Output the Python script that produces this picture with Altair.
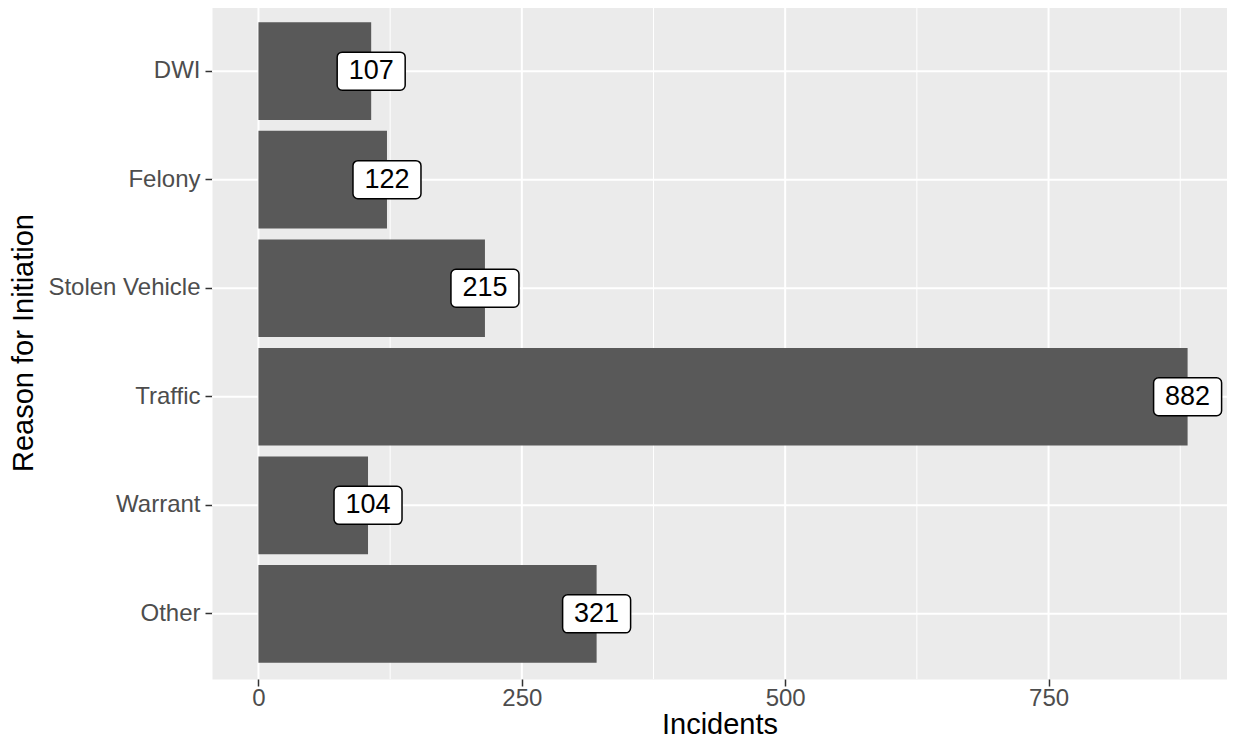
import altair as alt
import pandas as pd

reasons = ["DWI", "Felony", "Stolen Vehicle", "Traffic", "Warrant", "Other"]
incidents = [107, 122, 215, 882, 104, 321]
major_x = [0, 250, 500, 750]
minor_x = [125, 375, 625, 875]

df = pd.DataFrame({"reason": reasons, "incidents": incidents})
df_major = pd.DataFrame({"v": major_x})
df_minor = pd.DataFrame({"v": minor_x})

FONT = "Liberation Sans"
xscale = alt.Scale(domain=[-44.1, 919.4], nice=False, zero=False)
yscale = alt.Scale(domain=reasons, paddingInner=0.1, paddingOuter=0.15)

xaxis = alt.Axis(
    values=major_x,
    title="Incidents",
    grid=False,
    domain=False,
    labelFont=FONT,
    labelFontSize=24,
    labelColor="#4D4D4D",
    labelPadding=0,
    tickColor="#333333",
    tickSize=7,
    tickWidth=1.5,
    titleFont=FONT,
    titleFontSize=29,
    titleFontWeight="normal",
    titleColor="black",
    titlePadding=0,
)
yaxis = alt.Axis(
    title="Reason for Initiation",
    grid=False,
    domain=False,
    labelFont=FONT,
    labelFontSize=24,
    labelColor="#4D4D4D",
    labelPadding=5,
    tickColor="#333333",
    tickSize=7,
    tickWidth=1.5,
    titleFont=FONT,
    titleFontSize=29,
    titleFontWeight="normal",
    titleColor="black",
    titlePadding=9,
)

X = lambda f: alt.X(f, scale=xscale, axis=xaxis)
Y = alt.Y("reason:N", scale=yscale, sort=reasons, axis=yaxis)

minor = alt.Chart(df_minor).mark_rule(color="white", strokeWidth=1).encode(x=X("v:Q"))
major = alt.Chart(df_major).mark_rule(color="white", strokeWidth=2).encode(x=X("v:Q"))
ygrid = alt.Chart(df).mark_rule(color="white", strokeWidth=2).encode(y=Y)

bars = alt.Chart(df).mark_bar(color="#595959").encode(x=X("incidents:Q"), y=Y)

boxes = alt.Chart(df).mark_bar(
    fill="white", stroke="black", strokeWidth=1.5, cornerRadius=5,
    size=38, xOffset=-34, x2Offset=34,
).encode(
    x=X("incidents:Q"),
    x2=alt.X2("incidents"),
    y=Y,
)

labels = alt.Chart(df).mark_text(
    font=FONT, fontSize=27, color="black", baseline="middle", align="center"
).encode(
    x=X("incidents:Q"),
    y=Y,
    text=alt.Text("incidents:Q"),
)

chart = (
    alt.layer(minor, major, ygrid, bars, boxes, labels)
    .properties(
        width=1015,
        height=673,
        autosize=alt.AutoSizeParams(type="none"),
        padding={"left": 204, "top": -2, "right": 0, "bottom": 60},
    )
    .configure(background="white")
    .configure_view(fill="#EBEBEB", stroke="transparent")
)

chart.save("out.html", embed_options={"renderer": "svg", "actions": False})
